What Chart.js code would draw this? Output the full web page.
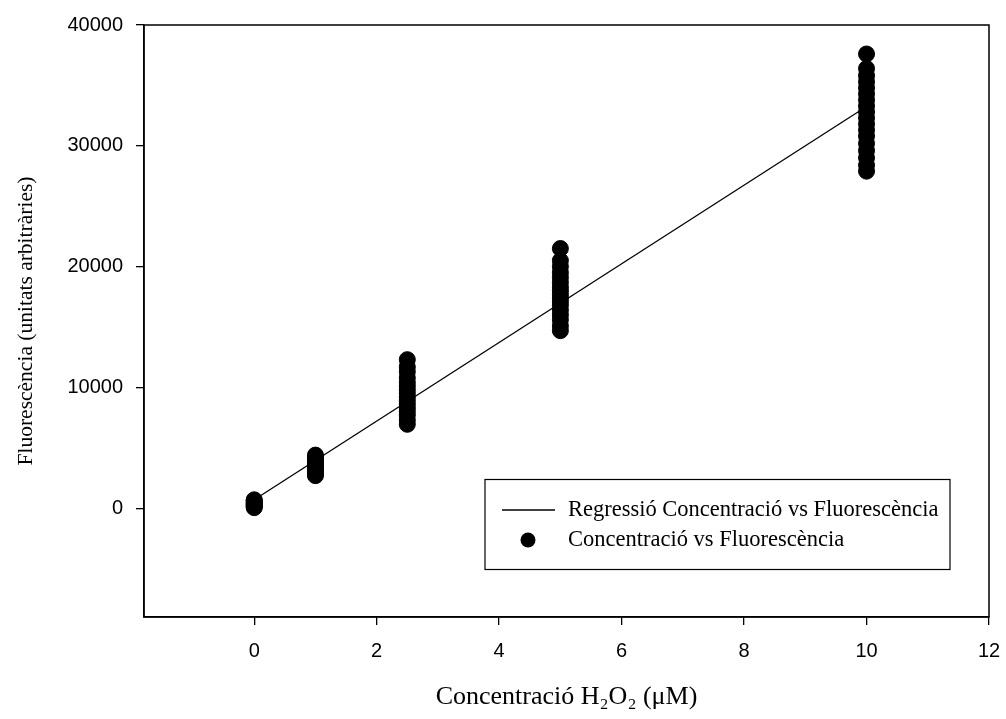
<!DOCTYPE html>
<html>
<head>
<meta charset="utf-8">
<script src="https://cdn.jsdelivr.net/npm/chart.js@4.4.0/dist/chart.umd.min.js"></script>
<style>
  body { margin: 0; background: #fff; }
  canvas { display: block; }
</style>
</head>
<body>
<canvas id="chart" width="1006" height="719"></canvas>
<script>
// concentrations (uM) and the fluorescence readings measured at each one
const concentrations = [0, 1, 2.5, 5, 10];
const fluor0 = [50, 120, 200, 260, 330, 400, 470, 560, 640, 700];
const fluor1 = [2700, 2850, 3000, 3150, 3300, 3450, 3600, 3750, 3900, 4050, 4200, 4400];
const fluor25 = [6950, 7300, 7700, 8000, 8300, 8600, 8900, 9200, 9500, 9800, 10100, 10400, 10800, 11300, 11700, 12300];
const fluor5 = [14700, 15100, 15600, 16000, 16400, 16800, 17100, 17400, 17700, 18000, 18300, 18700, 19100, 19500, 20000, 20500, 21500];
const fluor10 = [27900, 28400, 29000, 29600, 30200, 30800, 31300, 31800, 32300, 32800, 33300, 33800, 34300, 34800, 35300, 35800, 36400, 37600];
const readings = [fluor0, fluor1, fluor25, fluor5, fluor10];

// regression line end points
const regX = [0, 10];
const regY = [700, 33250];

const xTicks = [0, 2, 4, 6, 8, 10, 12];
const yTicks = [0, 10000, 20000, 30000, 40000];

const scatterPoints = [];
concentrations.forEach(function (c, i) {
    readings[i].forEach(function (v) { scatterPoints.push({ x: c, y: v }); });
});
const regPoints = regX.map(function (x, i) { return { x: x, y: regY[i] }; });

const serif = "'Liberation Serif', 'DejaVu Serif', serif";
const sans = "'Liberation Sans', Arial, sans-serif";

// closes the frame and draws the boxed legend inside the plot
const framePlugin = {
    id: 'frame',
    afterDraw: function (chart) {
        const ctx = chart.ctx;
        const a = chart.chartArea;
        ctx.save();
        ctx.strokeStyle = '#000';
        ctx.lineWidth = 1.5;
        ctx.strokeRect(a.left, a.top, a.right - a.left, a.bottom - a.top);

        ctx.lineWidth = 1.2;
        ctx.strokeRect(485, 479.5, 465, 90);
        const sets = chart.data.datasets;
        ctx.font = '22.5px ' + serif;
        ctx.fillStyle = '#000';
        ctx.textBaseline = 'middle';
        ctx.textAlign = 'left';
        ctx.beginPath();
        ctx.moveTo(502, 510);
        ctx.lineTo(555, 510);
        ctx.lineWidth = 1.3;
        ctx.stroke();
        ctx.fillText(sets[0].label, 568, 510);
        ctx.beginPath();
        ctx.arc(528, 540, 7.5, 0, Math.PI * 2);
        ctx.fill();
        ctx.fillText(sets[1].label, 568, 540);
        ctx.restore();
    }
};

new Chart(document.getElementById('chart').getContext('2d'), {
    type: 'scatter',
    data: {
        datasets: [{
            type: 'line',
            label: 'Regressió Concentració vs Fluorescència',
            data: regPoints,
            borderColor: '#000',
            borderWidth: 1.3,
            pointRadius: 0,
            fill: false
        }, {
            label: 'Concentració vs Fluorescència',
            data: scatterPoints,
            backgroundColor: '#000',
            borderColor: '#000',
            pointRadius: 8,
            pointHoverRadius: 8
        }]
    },
    options: {
        responsive: false,
        animation: false,
        layout: { padding: { left: 0, top: 24, right: 17, bottom: 0 } },
        plugins: { legend: { display: false }, tooltip: { enabled: false } },
        scales: {
            x: {
                type: 'linear',
                min: -1.8,
                max: 12,
                afterBuildTicks: function (axis) { axis.ticks = xTicks.map(function (v) { return { value: v }; }); },
                afterFit: function (axis) {
                    axis.height = 102;
                    axis.paddingLeft = 0;
                    axis.paddingRight = 0;
                },
                grid: { drawOnChartArea: false, drawTicks: true, tickLength: 8, color: '#000', lineWidth: 1.3 },
                border: { display: true, color: '#000', width: 1.5 },
                ticks: {
                    color: '#000', font: { family: sans, size: 20 }, padding: 14, maxRotation: 0,
                    callback: function (v) { return String(v); }
                },
                title: {
                    display: true,
                    text: 'Concentració H₂O₂ (μM)',
                    color: '#000',
                    font: { family: serif, size: 26 },
                    padding: { top: 0, bottom: 6 }
                }
            },
            y: {
                type: 'linear',
                min: -9000,
                max: 40000,
                afterBuildTicks: function (axis) { axis.ticks = yTicks.map(function (v) { return { value: v }; }); },
                afterFit: function (axis) { axis.width = 144; },
                grid: { drawOnChartArea: false, drawTicks: true, tickLength: 8, color: '#000', lineWidth: 1.3 },
                border: { display: true, color: '#000', width: 1.5 },
                ticks: {
                    color: '#000', font: { family: sans, size: 20 }, padding: 13,
                    callback: function (v) { return String(v); }
                },
                title: {
                    display: true,
                    text: 'Fluorescència (unitats arbitràries)',
                    color: '#000',
                    font: { family: serif, size: 21.5 },
                    padding: { top: 13, bottom: 0 }
                }
            }
        }
    },
    plugins: [framePlugin]
});
</script>
</body>
</html>
